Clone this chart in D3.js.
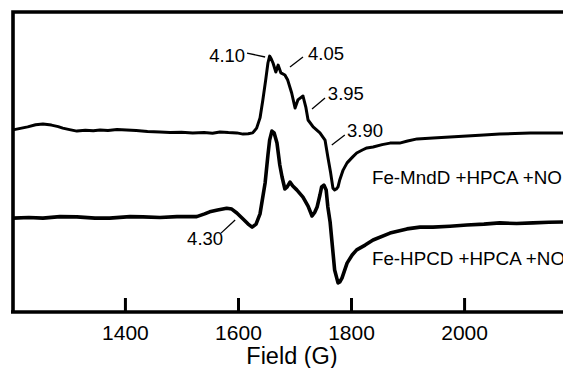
<!DOCTYPE html>
<html>
<head>
<meta charset="utf-8">
<script src="https://cdn.jsdelivr.net/npm/d3@7"></script>
<style>
  html, body { margin: 0; padding: 0; background: #fff; }
  svg { display: block; }
  text { font-family: "Liberation Sans", Arial, sans-serif; fill: #000; }
</style>
</head>
<body>
<div id="chart"></div>
<script>
// Field (G) and signal (arbitrary units)
const mnddField = [1202, 1215, 1228, 1242, 1255, 1270, 1282, 1290, 1302, 1315, 1330, 1344, 1356, 1370, 1386,
  1403, 1420, 1440, 1462, 1480, 1500, 1520, 1540, 1555, 1568, 1583, 1598, 1609, 1618, 1626, 1633, 1639,
  1644, 1649, 1653, 1656, 1659, 1662, 1667, 1671, 1676, 1683, 1688, 1695, 1701, 1706, 1710, 1715, 1720,
  1724, 1733, 1745, 1754, 1759, 1764, 1768, 1771, 1774, 1777, 1780, 1786, 1793, 1803, 1810, 1820, 1828,
  1839, 1855, 1869, 1886, 1900, 1917, 1945, 1975, 2005, 2035, 2063, 2090, 2117, 2145, 2175];
const mnddSignal = [60.7, 61.2, 61.7, 62.4, 62.7, 62.3, 61.8, 61.3, 60.8, 60.3, 60.6, 60.4, 60.7, 60.5, 60.8,
  60.7, 60.5, 60.2, 60.0, 59.8, 59.9, 59.7, 59.8, 59.6, 60.0, 59.8, 59.7, 59.3, 59.4, 59.7, 61.3, 64.7,
  70.7, 77.3, 83.0, 85.3, 84.3, 83.0, 80.0, 82.3, 79.7, 79.0, 77.3, 73.0, 68.0, 70.7, 71.3, 72.0, 68.3,
  64.0, 61.7, 59.7, 57.3, 51.7, 46.3, 41.3, 40.7, 41.0, 41.7, 44.0, 47.3, 49.7, 51.7, 53.0, 54.0, 54.7,
  55.0, 55.8, 56.3, 56.3, 57.0, 57.7, 58.0, 58.3, 58.7, 59.0, 59.3, 59.5, 59.7, 59.7, 59.7];

const hpcdField = [1202, 1230, 1255, 1285, 1315, 1347, 1373, 1409, 1432, 1462, 1492, 1527, 1541, 1550, 1564,
  1580, 1589, 1598, 1609, 1618, 1625, 1632, 1639, 1648, 1653, 1656, 1660, 1664, 1669, 1674, 1678, 1683,
  1687, 1692, 1697, 1704, 1715, 1724, 1731, 1736, 1740, 1745, 1748, 1752, 1756, 1759, 1763, 1766, 1771,
  1777, 1780, 1784, 1793, 1802, 1810, 1825, 1839, 1869, 1899, 1922, 1945, 1975, 2005, 2035, 2063, 2093,
  2122, 2150, 2175];
const hpcdSignal = [31.3, 31.5, 31.3, 31.8, 31.7, 31.3, 31.3, 31.8, 31.7, 31.5, 31.8, 31.8, 32.7, 33.4, 34.0,
  34.6, 34.3, 33.0, 31.0, 29.3, 28.3, 29.3, 32.7, 43.0, 52.3, 57.3, 60.3, 59.7, 56.3, 49.0, 45.0, 41.0,
  41.7, 43.3, 42.0, 40.7, 38.3, 35.3, 32.0, 33.3, 35.0, 39.0, 41.7, 42.3, 40.7, 35.0, 30.0, 24.0, 14.0,
  9.7, 10.0, 11.3, 16.3, 19.0, 20.7, 22.3, 24.0, 26.3, 27.7, 28.3, 28.3, 28.6, 29.0, 29.3, 29.7, 29.5,
  29.7, 29.9, 30.0];

const traceNames = ['Fe-MndD +HPCA +NO', 'Fe-HPCD +HPCA +NO'];
const nameField = [1837, 1837];
const nameSignal = [42.7, 15.7];

// g-value labels: text anchor and leader line, in data units
const gLabels = ['4.10', '4.05', '3.95', '3.90', '4.30'];
const gTextField = [1549, 1724, 1759, 1793, 1510];
const gTextSignal = [83.3, 84.0, 70.7, 58.3, 22.3];
const gLeader = [
  [[1616, 86.3], [1648, 85.0]],
  [[1692, 81.7], [1715, 85.0]],
  [[1731, 67.7], [1754, 71.3]],
  [[1766, 55.7], [1789, 59.0]],
  [[1570, 26.3], [1595, 30.7]]
];

const fieldTicks = [1400, 1600, 1800, 2000];

const width = 563, height = 368;
const svg = d3.select('#chart').append('svg')
  .attr('width', width)
  .attr('height', height);

const x = d3.scaleLinear().domain([1202, 2175]).range([13, 563]);
const y = d3.scaleLinear().domain([0, 100]).range([312, 12]);

// frame: left and top lines (bottom is the axis)
svg.append('path')
  .attr('d', `M${x(1202)},${y(0)}V${y(100)}H${width + 5}`)
  .attr('fill', 'none')
  .attr('stroke', '#000')
  .attr('stroke-width', 3.6);

const xAxis = d3.axisBottom(x)
  .tickValues(fieldTicks)
  .tickFormat(d3.format('d'))
  .tickSizeInner(-14)
  .tickSizeOuter(0)
  .tickPadding(13);

const gx = svg.append('g')
  .attr('transform', `translate(0,${y(0)})`)
  .call(xAxis);
gx.select('.domain').attr('stroke-width', 3.4).attr('d', `M${x(1202) - 2},0H${width + 5}`);
gx.selectAll('.tick line').attr('stroke-width', 3);
gx.selectAll('.tick text')
  .style('font-family', '"Liberation Sans", Arial, sans-serif')
  .style('font-size', '21px');

svg.append('text')
  .attr('x', 292)
  .attr('y', 364)
  .attr('text-anchor', 'middle')
  .style('font-size', '23.5px')
  .text('Field (G)');

// traces
const line = d3.line()
  .x(d => x(d[0]))
  .y(d => y(d[1]));

svg.append('path')
  .datum(d3.zip(mnddField, mnddSignal))
  .attr('d', line)
  .attr('fill', 'none')
  .attr('stroke', '#000')
  .attr('stroke-width', 3)
  .attr('stroke-linejoin', 'round');

svg.append('path')
  .datum(d3.zip(hpcdField, hpcdSignal))
  .attr('d', line)
  .attr('fill', 'none')
  .attr('stroke', '#000')
  .attr('stroke-width', 3.6)
  .attr('stroke-linejoin', 'round');

// trace names
svg.selectAll('.name')
  .data(traceNames)
  .enter()
  .append('text')
  .attr('class', 'name')
  .attr('x', (d, i) => x(nameField[i]))
  .attr('y', (d, i) => y(nameSignal[i]))
  .style('font-size', '18.8px')
  .text(d => d);

// g-value labels with leader lines
svg.selectAll('.glabel')
  .data(gLabels)
  .enter()
  .append('text')
  .attr('class', 'glabel')
  .attr('x', (d, i) => x(gTextField[i]))
  .attr('y', (d, i) => y(gTextSignal[i]))
  .style('font-size', '18.5px')
  .text(d => d);

svg.selectAll('.leader')
  .data(gLeader)
  .enter()
  .append('line')
  .attr('class', 'leader')
  .attr('x1', d => x(d[0][0]))
  .attr('y1', d => y(d[0][1]))
  .attr('x2', d => x(d[1][0]))
  .attr('y2', d => y(d[1][1]))
  .attr('stroke', '#000')
  .attr('stroke-width', 1.3);
</script>
</body>
</html>
